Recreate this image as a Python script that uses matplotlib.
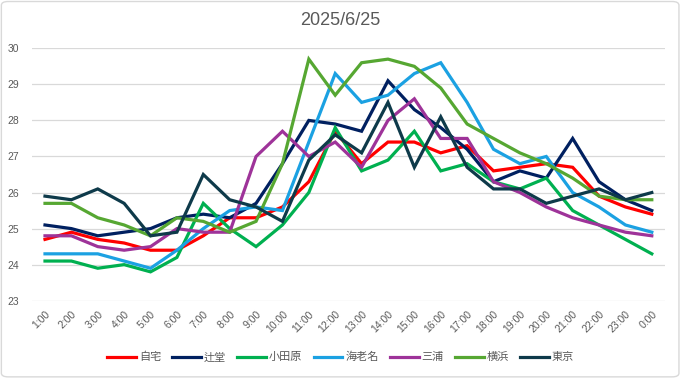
import matplotlib.pyplot as plt
from matplotlib.patches import FancyBboxPatch

plt.rcParams['font.family'] = ['Liberation Sans', 'Noto Sans CJK JP']

hours = ["1:00", "2:00", "3:00", "4:00", "5:00", "6:00", "7:00", "8:00",
         "9:00", "10:00", "11:00", "12:00", "13:00", "14:00", "15:00", "16:00",
         "17:00", "18:00", "19:00", "20:00", "21:00", "22:00", "23:00", "0:00"]

jitaku = [24.7, 24.9, 24.7, 24.6, 24.4, 24.4, 24.8, 25.3, 25.3, 25.6, 26.3, 27.7,
          26.8, 27.4, 27.4, 27.1, 27.3, 26.6, 26.7, 26.8, 26.7, 25.9, 25.6, 25.4]
tsujido = [25.1, 25.0, 24.8, 24.9, 25.0, 25.3, 25.4, 25.3, 25.7, 26.8, 28.0, 27.9,
           27.7, 29.1, 28.3, 27.8, 27.2, 26.3, 26.6, 26.4, 27.5, 26.3, 25.8, 25.5]
odawara = [24.1, 24.1, 23.9, 24.0, 23.8, 24.2, 25.7, 25.0, 24.5, 25.1, 26.0, 27.8,
           26.6, 26.9, 27.7, 26.6, 26.8, 26.3, 26.1, 26.4, 25.5, 25.1, 24.7, 24.3]
ebina = [24.3, 24.3, 24.3, 24.1, 23.9, 24.4, 25.0, 25.5, 25.6, 25.5, 27.4, 29.3,
         28.5, 28.7, 29.3, 29.6, 28.5, 27.2, 26.8, 27.0, 26.0, 25.6, 25.1, 24.9]
miura = [24.8, 24.8, 24.5, 24.4, 24.5, 25.0, 24.9, 24.9, 27.0, 27.7, 27.0, 27.4,
         26.7, 28.0, 28.6, 27.5, 27.5, 26.3, 26.0, 25.6, 25.3, 25.1, 24.9, 24.8]
yokohama = [25.7, 25.7, 25.3, 25.1, 24.8, 25.3, 25.2, 24.9, 25.2, 26.8, 29.7, 28.7,
            29.6, 29.7, 29.5, 28.9, 27.9, 27.5, 27.1, 26.8, 26.4, 25.9, 25.8, 25.8]
tokyo = [25.9, 25.8, 26.1, 25.7, 24.8, 24.9, 26.5, 25.8, 25.6, 25.2, 26.9, 27.6,
         27.1, 28.5, 26.7, 28.1, 26.7, 26.1, 26.1, 25.7, 25.9, 26.1, 25.8, 26.0]

names = ["自宅", "辻堂", "小田原", "海老名", "三浦", "横浜", "東京"]
series = [jitaku, tsujido, odawara, ebina, miura, yokohama, tokyo]
colors = ["#FF0000", "#002060", "#00B050", "#1BA1E2", "#9E3399", "#56A732", "#0E3A4A"]

fig = plt.figure(figsize=(6.81, 3.78), dpi=100)
fig.patches.append(FancyBboxPatch((0.002, 0.003), 0.995, 0.993,
                                  boxstyle="round,pad=0,rounding_size=0.01",
                                  transform=fig.transFigure, fill=False,
                                  edgecolor="#D9D9D9", linewidth=1))
ax = fig.add_axes([0.0467, 0.2045, 0.9298, 0.6677])

x = list(range(len(hours)))
for vals, name, c in zip(series, names, colors):
    ax.plot(x, vals, color=c, linewidth=2.3, label=name, solid_joinstyle="miter")

ax.set_xlim(-0.5, len(hours) - 0.5)
ax.set_ylim(23, 30)
ax.set_yticks(range(23, 31))
ax.set_xticks(x)
ax.set_xticklabels(hours, rotation=45, ha="right", rotation_mode="anchor")
ax.grid(axis="y", color="#D9D9D9", linewidth=0.9)
ax.set_axisbelow(True)
for s in ax.spines.values():
    s.set_visible(False)
ax.tick_params(axis="both", length=0, labelsize=7.5, colors="#595959")
ax.tick_params(axis="y", pad=9)
ax.tick_params(axis="x", pad=6)

fig.text(0.5, 0.945, "2025/6/25", ha="center", va="center", fontsize=13,
         color="#595959")

fig.legend(loc="center", bbox_to_anchor=(0.5, 0.055), ncol=7, frameon=False,
           fontsize=8, labelcolor="#595959", handlelength=2.6,
           handletextpad=0.25, columnspacing=1.0)

fig.savefig("out.png", dpi=100)
